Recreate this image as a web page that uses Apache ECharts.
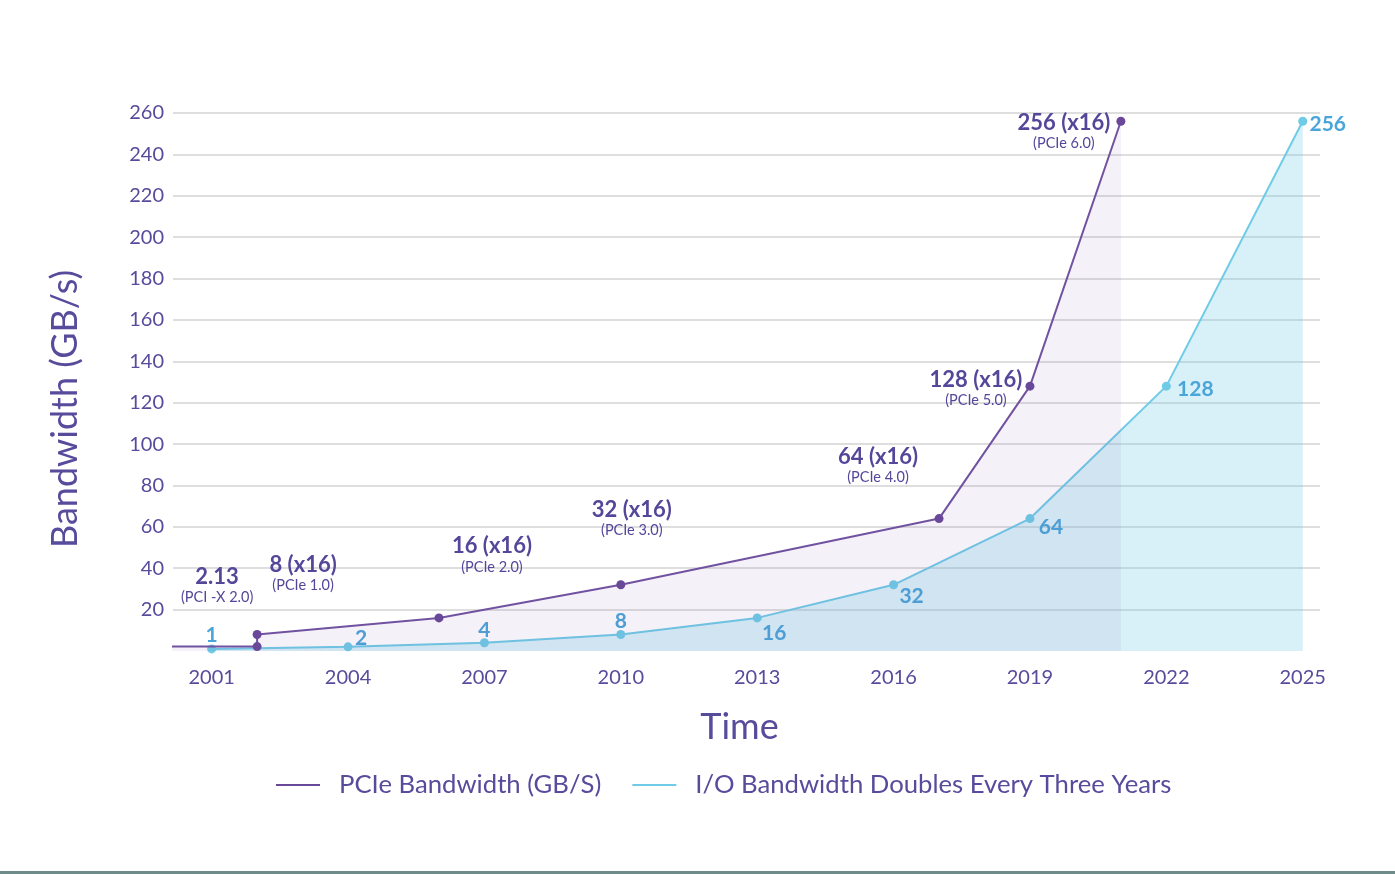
<!DOCTYPE html>
<html>
<head>
<meta charset="utf-8">
<script src="https://cdn.jsdelivr.net/npm/echarts@6/dist/echarts.min.js"></script>
<style>
html,body{margin:0;padding:0;background:#fff;}
#chart{width:1395px;height:874px;}
</style>
</head>
<body>
<div id="chart"></div>
<script>
// ---- data ----
const tickYears = [2001, 2004, 2007, 2010, 2013, 2016, 2019, 2022, 2025];
const yTicks = [20, 40, 60, 80, 100, 120, 140, 160, 180, 200, 220, 240, 260];

const pcieYears  = [2000, 2002, 2002, 2006, 2010, 2017, 2019, 2021];
const pcieValues = [2.13, 2.13, 8, 16, 32, 64, 128, 256];
const pcieLabels = ['', '2.13', '8 (x16)', '16 (x16)', '32 (x16)', '64 (x16)', '128 (x16)', '256 (x16)'];
const pcieSubs   = ['', '(PCI -X 2.0)', '(PCIe 1.0)', '(PCIe 2.0)', '(PCIe 3.0)', '(PCIe 4.0)', '(PCIe 5.0)', '(PCIe 6.0)'];

const ioYears  = [2001, 2004, 2007, 2010, 2013, 2016, 2019, 2022, 2025];
const ioValues = [1, 2, 4, 8, 16, 32, 64, 128, 256];
const ioLabels = ['1', '2', '4', '8', '16', '32', '64', '128', '256'];

// ---- label placement (styling) ----
const pcieLabelOffsets = [[0,0],[-40,-60],[46,-60],[53,-62],[11,-65],[-61,-52],[-54,3],[-57,11]];
const ioLabelOffsets = [[0,-14],[13,-9],[0,-12],[0,-13],[17,15],[18,11],[21,9],[29,3],[25,3]];

const FONT = 'Lato, "Open Sans", sans-serif';
const TXT = '#574b9c';
const PURPLE = '#7152a0';
const PURPLE_DOT = '#6a4899';
const BLUE = '#6fcbe6';
const BLUE_TXT = '#4aa5da';

const pcieData = pcieYears.map((yr, i) => ({
  value: [yr, pcieValues[i]],
  symbol: i === 0 ? 'none' : 'circle',
  label: {
    show: i !== 0,
    position: 'inside',
    offset: pcieLabelOffsets[i],
    formatter: () => '{a|' + pcieLabels[i] + '}\n{b|' + pcieSubs[i] + '}',
    rich: {
      a: {fontFamily: FONT, fontSize: 22, fontWeight: 'bold', color: '#54479a', lineHeight: 22, align: 'center'},
      b: {fontFamily: FONT, fontSize: 14.5, color: '#54479a', lineHeight: 19, align: 'center'}
    }
  }
}));

const ioData = ioYears.map((yr, i) => ({
  value: [yr, ioValues[i]],
  label: {
    show: true,
    position: 'inside',
    offset: ioLabelOffsets[i],
    formatter: () => ioLabels[i],
    fontFamily: FONT, fontSize: 21, fontWeight: 'bold', color: BLUE_TXT
  }
}));

const chart = echarts.init(document.getElementById('chart'));
chart.setOption({
  backgroundColor: '#ffffff',
  animation: false,
  textStyle: {fontFamily: FONT},
  grid: {left: 173, right: 75, top: 113, bottom: 223, containLabel: false},
  legend: {
    data: ['PCIe Bandwidth (GB/S)', 'I/O Bandwidth Doubles Every Three Years'],
    left: 271, top: 767,
    icon: 'rect', itemWidth: 44, itemHeight: 2, itemGap: 31,
    textStyle: {fontFamily: FONT, fontSize: 25.7, color: TXT, padding: [0, 0, 0, 14]}
  },
  xAxis: {
    type: 'value',
    min: 2000.15, max: 2025.38,
    name: 'Time', nameLocation: 'middle', nameGap: 58,
    nameTextStyle: {fontFamily: FONT, fontSize: 36, color: TXT, padding: [0, 14, 0, 0]},
    axisLine: {show: false}, axisTick: {show: false},
    splitLine: {show: false},
    axisLabel: {customValues: tickYears, fontSize: 20, color: TXT, margin: 17, fontFamily: FONT,
      formatter: v => String(Math.round(v))}
  },
  yAxis: {
    type: 'value', min: 0, max: 260, interval: 20,
    name: 'Bandwidth (GB/s)', nameLocation: 'middle', nameGap: 90,
    nameTextStyle: {fontFamily: FONT, fontSize: 36, color: TXT, padding: [0, 54, 0, 0]},
    axisLine: {show: false}, axisTick: {show: false},
    axisLabel: {customValues: yTicks, fontSize: 20, color: TXT, margin: 9, fontFamily: FONT},
    splitLine: {lineStyle: {color: ['rgba(0,0,0,0)', '#dedede','#dedede','#dedede','#dedede','#dedede','#dedede','#dedede','#dedede','#dedede','#dedede','#dedede','#dedede','#dedede'], width: 2}}
  },
  graphic: [
    {type: 'rect', left: 0, top: 871, shape: {width: 1395, height: 3}, style: {fill: '#6e8c8a'}}
  ],
  series: [
    {
      name: 'I/O Bandwidth Doubles Every Three Years',
      type: 'line',
      data: ioData,
      symbol: 'circle', symbolSize: 9,
      itemStyle: {color: BLUE},
      lineStyle: {color: BLUE, width: 2},
      areaStyle: {color: BLUE, opacity: 0.27},
      z: 2
    },
    {
      name: 'PCIe Bandwidth (GB/S)',
      type: 'line',
      data: pcieData,
      symbol: 'circle', symbolSize: 9,
      itemStyle: {color: PURPLE_DOT},
      lineStyle: {color: PURPLE, width: 2},
      areaStyle: {color: PURPLE, opacity: 0.08},
      z: 3
    }
  ]
});
</script>
</body>
</html>
